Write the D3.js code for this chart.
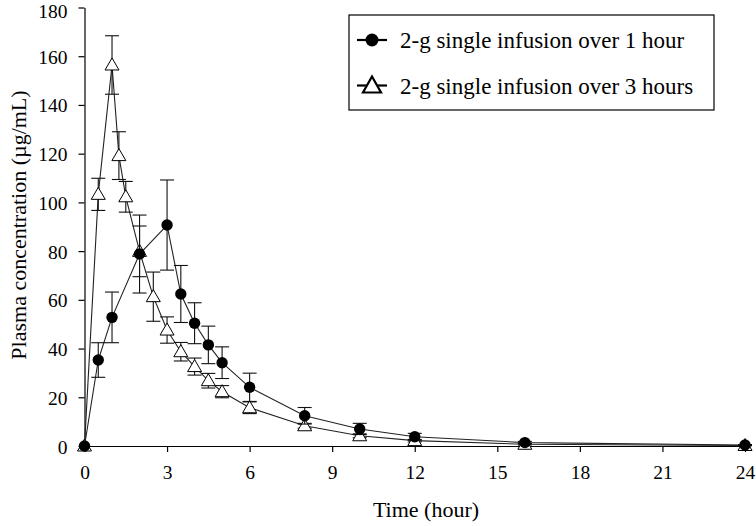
<!DOCTYPE html>
<html><head><meta charset="utf-8">
<script src="https://cdn.jsdelivr.net/npm/d3@7"></script>
<style>body{margin:0;background:#fff}svg{display:block}</style>
</head><body><svg id="c" width="756" height="526"></svg>
<script>
// Data
const timesA = [0, 0.5, 1, 2, 3, 3.5, 4, 4.5, 5, 6, 8, 10, 12, 16, 24];
const meanA  = [0, 35.3, 52.8, 78.8, 90.7, 62.4, 50.4, 41.5, 34.2, 24.1, 12.4, 7.0, 3.8, 1.4, 0.4];
const sdA    = [0, 7.1, 10.4, 16.0, 18.5, 11.7, 8.4, 7.7, 6.5, 5.8, 3.4, 2.3, 1.4, 0.5, 0.2];
const timesB = [0, 0.5, 1, 1.25, 1.5, 2, 2.5, 3, 3.5, 4, 4.5, 5, 6, 8, 10, 12, 16, 24];
const meanB  = [0, 103.3, 156.4, 119.2, 102.3, 79.9, 61.3, 47.6, 38.7, 32.6, 26.8, 22.3, 15.7, 8.3, 4.2, 2.2, 0.7, 0.2];
const sdB    = [0, 6.6, 12.0, 9.8, 6.3, 10.4, 10.1, 5.4, 3.8, 3.5, 3.0, 2.5, 2.4, 1.0, 0.8, 0.5, 0.3, 0.1];
const seriesNames = ["2-g single infusion over 1 hour", "2-g single infusion over 3 hours"];
const xTicks = [0, 3, 6, 9, 12, 15, 18, 21, 24];
const yTicks = [0, 20, 40, 60, 80, 100, 120, 140, 160, 180];
const xTitle = "Time (hour)";
const yTitle = "Plasma concentration (\u00b5g/mL)";

const svg = d3.select("#c");
const font = '"Liberation Serif"';
const x = d3.scaleLinear().domain([0, 24]).range([84.5, 745]);
const y = d3.scaleLinear().domain([0, 180]).range([446, 7.5]);

// Axes
const xAxis = svg.append("g").attr("transform", `translate(0,${y(0)})`)
  .call(d3.axisBottom(x).tickValues(xTicks).tickSize(6).tickSizeOuter(0));
const yAxis = svg.append("g").attr("transform", `translate(${x(0)},0)`)
  .call(d3.axisLeft(y).tickValues(yTicks).tickSize(6).tickPadding(11).tickSizeOuter(0));
[xAxis, yAxis].forEach(g => {
  g.attr("font-family", null);
  g.selectAll("text").style("font-family", font).attr("font-size", 19.5).attr("fill", "#000");
  g.selectAll("line,path").attr("stroke", "#000").attr("stroke-width", 1.2);
});
xAxis.selectAll("text").attr("y", 33).attr("dy", 0);
yAxis.selectAll("text").attr("dy", d => d === 180 ? "0.52em" : "0.36em");

svg.append("text").attr("x", 426).attr("y", 517).attr("text-anchor", "middle")
  .style("font-family", font).attr("font-size", 22).text(xTitle);
svg.append("text").attr("transform", "translate(26,225) rotate(-90)").attr("text-anchor", "middle")
  .style("font-family", font).attr("font-size", 22).text(yTitle);

function drawSeries(times, means, sds, marker) {
  const pts = times.map((t, i) => ({t, m: means[i], s: sds[i]}));
  const g = svg.append("g");
  g.append("path").datum(pts)
    .attr("d", d3.line().x(d => x(d.t)).y(d => y(d.m)))
    .attr("fill", "none").attr("stroke", "#222").attr("stroke-width", 1.1);
  const eb = g.selectAll(".eb").data(pts.filter(d => d.s > 0)).enter().append("g");
  eb.append("line").attr("x1", d => x(d.t)).attr("x2", d => x(d.t))
    .attr("y1", d => y(d.m - d.s)).attr("y2", d => y(d.m + d.s));
  eb.append("line").attr("x1", d => x(d.t) - 7).attr("x2", d => x(d.t) + 7)
    .attr("y1", d => y(d.m + d.s)).attr("y2", d => y(d.m + d.s));
  eb.append("line").attr("x1", d => x(d.t) - 7).attr("x2", d => x(d.t) + 7)
    .attr("y1", d => y(d.m - d.s)).attr("y2", d => y(d.m - d.s));
  eb.selectAll("line").attr("stroke", "#111").attr("stroke-width", 1.1);
  if (marker === "circle") {
    g.selectAll(".m").data(pts).enter().append("circle")
      .attr("cx", d => x(d.t)).attr("cy", d => y(d.m)).attr("r", 5.7).attr("fill", "#000");
  } else {
    g.selectAll(".m").data(pts).enter().append("path")
      .attr("transform", d => `translate(${x(d.t)},${y(d.m)})`)
      .attr("d", "M0,-7L7,5L-7,5Z")
      .attr("fill", "#fff").attr("stroke", "#000").attr("stroke-width", 1);
  }
}
drawSeries(timesB, meanB, sdB, "triangle");
drawSeries(timesA, meanA, sdA, "circle");

// Legend
const lg = svg.append("g");
lg.append("rect").attr("x", 349).attr("y", 15).attr("width", 365).attr("height", 95)
  .attr("fill", "#fff").attr("stroke", "#000").attr("stroke-width", 1.2);
const rows = [40, 85.5];
rows.forEach((ry, i) => {
  lg.append("line").attr("x1", 357).attr("x2", 387).attr("y1", ry).attr("y2", ry)
    .attr("stroke", "#000").attr("stroke-width", 2.2);
  if (i === 0) {
    lg.append("circle").attr("cx", 372).attr("cy", ry).attr("r", 6.5).attr("fill", "#000");
  } else {
    lg.append("path").attr("transform", `translate(372,${ry})`)
      .attr("d", "M0,-9L9,7L-9,7Z").attr("fill", "#fff").attr("stroke", "#000").attr("stroke-width", 2.2);
  }
  lg.append("text").attr("x", 400).attr("y", ry + 8).style("font-family", font)
    .attr("font-size", 23).text(seriesNames[i]);
});
</script></body></html>
